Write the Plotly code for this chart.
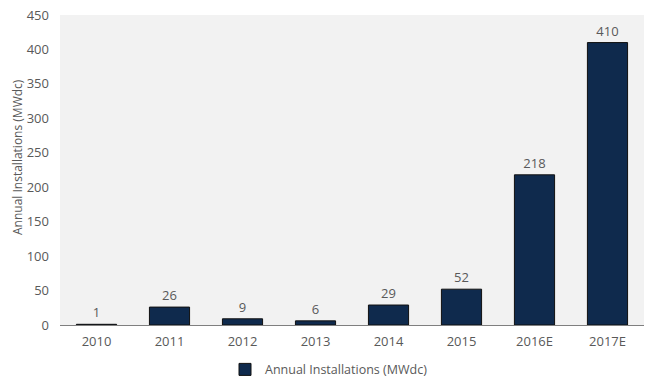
import plotly.graph_objects as go

years = ["2010", "2011", "2012", "2013", "2014", "2015", "2016E", "2017E"]
installs = [1, 26, 9, 6, 29, 52, 218, 410]
y_ticks = [0, 50, 100, 150, 200, 250, 300, 350, 400, 450]

fig = go.Figure()
fig.add_trace(go.Bar(
    x=years, y=installs, name="Annual Installations (MWdc)",
    marker=dict(color="#0f2a4d", line=dict(color="#111111", width=1)),
    text=[str(v) for v in installs], textposition="outside",
    textfont=dict(color="#595959", size=13),
    cliponaxis=False,
))
fig.update_layout(
    width=650, height=382,
    margin=dict(l=60, r=6, t=15, b=57, autoexpand=False),
    paper_bgcolor="white", plot_bgcolor="#f2f2f2",
    font=dict(family="Open Sans, sans-serif", color="#595959", size=13),
    bargap=0.45,
    showlegend=True,
    legend=dict(orientation="h", x=(225 - 60) / 584, xanchor="left",
                y=0.032, yref="container", yanchor="middle", itemwidth=30,
                font=dict(size=12.5, color="#595959")),
    xaxis=dict(showgrid=False, showline=True, linecolor="#7f7f7f", linewidth=1,
               ticks="", ticklabelstandoff=4, automargin=False,
               tickfont=dict(size=13, color="#595959")),
    yaxis=dict(range=[0, 450], tickvals=y_ticks, showgrid=False, zeroline=False,
               showline=False, ticks="", ticklabelstandoff=10, automargin=False,
               tickfont=dict(size=13, color="#595959")),
    annotations=[dict(text="Annual Installations (MWdc)", textangle=-90,
                      xref="paper", yref="paper", x=(18 - 60) / 584, y=(325 - 157) / 310,
                      xanchor="center", yanchor="middle", showarrow=False,
                      font=dict(size=12, color="#595959"))],
)
fig.write_html("out.html", post_script="document.body.style.margin='0';",
               config={"displayModeBar": False})
